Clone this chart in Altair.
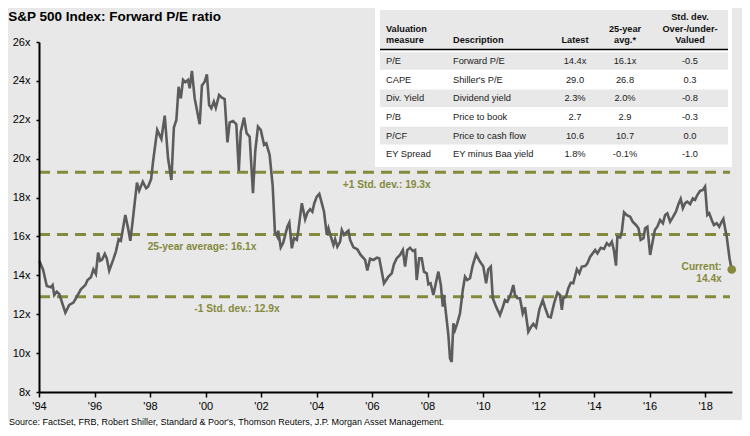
import altair as alt
import pandas as pd

# ---------------- data ----------------
years = [
    1994.01, 1994.15, 1994.28, 1994.43, 1994.49, 1994.55, 1994.64, 1994.73, 1994.95,
    1995.09, 1995.24, 1995.33, 1995.51, 1995.67, 1995.75, 1995.87, 1995.96,
    1996.05, 1996.13, 1996.20, 1996.27, 1996.37, 1996.44, 1996.53, 1996.68, 1996.77, 1996.87, 1996.95,
    1997.11, 1997.21, 1997.29, 1997.38, 1997.53, 1997.61, 1997.74, 1997.86, 1997.93,
    1998.04, 1998.11, 1998.26, 1998.41, 1998.53, 1998.65, 1998.77, 1998.86, 1998.95,
    1999.03, 1999.11, 1999.19, 1999.27, 1999.37, 1999.43, 1999.51, 1999.61, 1999.79, 1999.87, 1999.97,
    2000.05, 2000.13, 2000.21, 2000.30, 2000.37, 2000.49, 2000.59, 2000.69, 2000.79, 2000.87, 2000.99,
    2001.11, 2001.20, 2001.27, 2001.39, 2001.48, 2001.59, 2001.71, 2001.79, 2001.89, 2001.99,
    2002.11, 2002.19, 2002.31, 2002.42, 2002.50, 2002.59, 2002.62, 2002.71, 2002.80, 2002.95,
    2003.02, 2003.11, 2003.19, 2003.29, 2003.34, 2003.47, 2003.59, 2003.67, 2003.77, 2003.85, 2003.92,
    2004.01, 2004.10, 2004.19, 2004.27, 2004.37, 2004.43, 2004.51, 2004.61, 2004.67, 2004.75, 2004.85, 2004.91, 2004.99,
    2005.06, 2005.15, 2005.21, 2005.33, 2005.47, 2005.59, 2005.75, 2005.83, 2005.93,
    2006.05, 2006.17, 2006.26, 2006.43, 2006.59, 2006.71, 2006.79, 2006.89,
    2007.01, 2007.11, 2007.19, 2007.27, 2007.37, 2007.47, 2007.55, 2007.61, 2007.70, 2007.79, 2007.87, 2007.97,
    2008.03, 2008.11, 2008.21, 2008.31, 2008.39, 2008.48, 2008.55, 2008.59, 2008.67, 2008.75, 2008.81, 2008.87, 2008.93, 2008.99,
    2009.07, 2009.17, 2009.27, 2009.35, 2009.43, 2009.53, 2009.63, 2009.75, 2009.87,
    2010.01, 2010.11, 2010.19, 2010.28, 2010.35, 2010.47, 2010.61, 2010.71, 2010.79, 2010.88,
    2011.00, 2011.09, 2011.15, 2011.24, 2011.33, 2011.43, 2011.51, 2011.63, 2011.72, 2011.81, 2011.91,
    2012.03, 2012.15, 2012.23, 2012.35, 2012.44, 2012.56, 2012.68, 2012.77, 2012.84, 2012.89, 2012.99,
    2013.07, 2013.16, 2013.25, 2013.38, 2013.47, 2013.56, 2013.68, 2013.76, 2013.86, 2013.95,
    2014.04, 2014.12, 2014.24, 2014.36, 2014.46, 2014.55, 2014.64, 2014.72, 2014.79, 2014.84, 2014.94,
    2015.00, 2015.08, 2015.18, 2015.30, 2015.39, 2015.51, 2015.60, 2015.68, 2015.78, 2015.84, 2015.92,
    2016.02, 2016.11, 2016.19, 2016.28, 2016.38, 2016.48, 2016.56, 2016.64, 2016.74, 2016.83, 2016.95,
    2017.04, 2017.12, 2017.20, 2017.28, 2017.36, 2017.46, 2017.56, 2017.64, 2017.72, 2017.82, 2017.92,
    2018.00, 2018.08, 2018.15, 2018.24, 2018.32, 2018.42, 2018.51, 2018.60, 2018.66, 2018.72, 2018.78, 2018.88, 2018.96,
]
pe = [
    14.75, 14.28, 13.45, 13.39, 13.50, 12.99, 13.16, 13.04, 12.08,
    12.48, 12.60, 12.82, 13.28, 13.50, 13.76, 13.90, 14.31,
    14.07, 15.17, 14.75, 14.80, 15.10, 14.88, 14.24, 14.83, 15.22, 15.86, 15.78,
    17.10, 16.42, 15.78, 16.85, 18.77, 18.35, 18.82, 18.48, 18.56,
    18.95, 19.85, 21.48, 21.01, 22.21, 20.02, 18.90, 21.60, 21.99,
    23.70, 23.10, 24.05, 23.93, 24.05, 23.62, 24.51, 23.10, 21.77, 23.76, 23.96,
    24.34, 22.76, 22.59, 22.93, 22.62, 23.28, 23.14, 23.07, 20.84, 21.87, 21.94,
    21.77, 19.37, 21.39, 22.11, 21.31, 21.13, 18.22, 20.36, 21.65, 21.48,
    20.71, 20.79, 20.19, 18.60, 16.25, 15.99, 16.30, 15.44, 15.68, 16.50,
    16.71, 15.39, 15.91, 15.82, 16.25, 17.71, 16.88, 17.22, 17.40, 17.27, 17.71,
    18.05, 18.19, 17.71, 17.27, 16.08, 16.42, 16.02, 15.56, 15.86, 15.47, 15.73, 16.33, 16.08,
    16.19, 16.30, 15.82, 15.44, 15.34, 15.05, 14.79, 14.25, 14.85,
    14.79, 14.91, 14.88, 13.59, 13.93, 14.10, 14.57, 14.88,
    15.05, 15.30, 14.45, 15.30, 15.42, 15.25, 15.30, 13.76, 14.88, 14.88, 14.19, 14.10,
    13.54, 13.59, 12.99, 13.67, 14.19, 13.50, 12.39, 12.99, 11.96, 10.93, 9.73, 9.55, 11.53, 11.19,
    11.53, 12.05, 13.25, 13.93, 13.76, 13.85, 14.53, 15.08, 14.75,
    14.45, 13.59, 14.31, 14.45, 12.82, 12.39, 11.96, 12.36, 12.73, 12.65,
    13.04, 13.50, 12.99, 12.82, 12.82, 12.05, 12.36, 11.10, 11.33, 11.50, 11.33,
    12.25, 12.73, 12.36, 11.87, 11.84, 12.56, 13.11, 12.99, 12.22, 12.82, 12.90,
    13.33, 13.62, 13.59, 14.31, 14.10, 14.45, 14.48, 14.62, 14.96, 15.13,
    15.30, 15.13, 15.42, 15.36, 15.65, 15.53, 15.73, 15.25, 14.50, 15.99, 15.94,
    16.25, 17.24, 17.10, 17.02, 16.76, 16.59, 16.42, 15.82, 15.91, 16.42, 16.50,
    15.05, 15.73, 16.33, 16.50, 16.85, 16.68, 17.10, 17.19, 16.76, 16.97, 17.27,
    17.66, 17.93, 17.45, 17.71, 17.79, 17.66, 17.96, 17.88, 18.13, 18.34, 18.39,
    18.56, 17.10, 17.19, 16.85, 16.59, 16.68, 16.50, 16.76, 16.90, 16.42, 15.99, 14.88, 14.30,
]

levels = [19.3, 16.1, 12.9]
level_labels = ["+1 Std. dev.: 19.3x", "25-year average: 16.1x", "-1 Std. dev.: 12.9x"]

current_year = [2018.96]
current_pe = [14.30]
current_text = ["14.4x"]

x_ticks = [1994, 1996, 1998, 2000, 2002, 2004, 2006, 2008, 2010, 2012, 2014, 2016, 2018]
y_ticks = [8, 10, 12, 14, 16, 18, 20, 22, 24, 26]

measures = ["P/E", "CAPE", "Div. Yield", "P/B", "P/CF", "EY Spread"]
descriptions = ["Forward P/E", "Shiller's P/E", "Dividend yield", "Price to book",
                "Price to cash flow", "EY minus Baa yield"]
latest = ["14.4x", "29.0", "2.3%", "2.7", "10.6", "1.8%"]
avg25 = ["16.1x", "26.8", "2.0%", "2.9", "10.7", "-0.1%"]
stddev = ["-0.5", "0.3", "-0.8", "-0.3", "0.0", "-1.0"]
headers = ["Valuation\nmeasure", "Description", "Latest", "25-year\navg.*",
           "Std. dev.\nOver-/under-\nValued"]

title_text = "S&P 500 Index: Forward P/E ratio"
source_text = ("Source: FactSet, FRB, Robert Shiller, Standard & Poor's, Thomson Reuters, "
               "J.P. Morgan Asset Management.")

# ---------------- styling ----------------
FONT = "Liberation Sans"
OLIVE = "#848a3c"
LINE = "#5c5c5c"
BG = "#e8e8e8"
W, H = 693, 350

series = pd.DataFrame({"year": years, "pe": pe})
lv = pd.DataFrame({"level": levels, "label": level_labels})
cur = pd.DataFrame({"year": current_year, "pe": current_pe, "label": current_text})
one = pd.DataFrame({"k": [0]})
tbl = pd.DataFrame({"row": list(range(len(measures))), "measure": measures,
                    "desc": descriptions, "latest": latest, "avg": avg25, "sd": stddev})
hdr = pd.DataFrame({"h": headers, "col": list(range(len(headers)))})

xs = alt.Scale(domain=[1994, 2018.97], nice=False, zero=False)
ys = alt.Scale(domain=[8, 26], nice=False, zero=False)

x_axis = alt.Axis(values=x_ticks, labelExpr="\"'\" + substring(toString(datum.value), 2, 4)",
                  title=None, grid=False, domainColor="black", domainWidth=2,
                  tickColor="black", tickSize=5, tickWidth=1.5, labelFont=FONT,
                  labelFontSize=11, labelColor="black", labelPadding=3,
                  labelFlush=False, labelOverlap=False, zindex=1)
y_axis = alt.Axis(values=y_ticks, labelExpr="datum.value + 'x'", title=None, grid=False,
                  domainColor="black", domainWidth=2, tickColor="black", tickSize=3,
                  tickWidth=1.5, labelFont=FONT, labelFontSize=11, labelColor="black",
                  labelPadding=6, labelFlush=False, labelOverlap=False, zindex=1)

bg = alt.Chart(one).mark_rect(color=BG).encode(
    x=alt.value(-31), x2=alt.value(703), y=alt.value(-34), y2=alt.value(378))

title = alt.Chart(one).mark_text(text=title_text, align="left", baseline="middle", font=FONT,
                                 fontSize=13.5, fontWeight="bold", color="black").encode(
    x=alt.value(-30.7), y=alt.value(-25.3))

source = alt.Chart(one).mark_text(text=source_text, align="left", baseline="alphabetic",
                                  font=FONT, fontSize=9, color="black").encode(
    x=alt.value(-30), y=alt.value(383))

rules = alt.Chart(lv).mark_rule(color=OLIVE, strokeWidth=3, strokeDash=[11, 7]).encode(
    y=alt.Y("level:Q", scale=ys, axis=y_axis), x=alt.value(0), x2=alt.value(691))

label_x = [347.7, 163, 198]
label_layers = []
for i, px in enumerate(label_x):
    label_layers.append(
        alt.Chart(lv.iloc[[i]]).mark_text(align="center", baseline="middle", dy=12.5,
                                          font=FONT, fontSize=10.2, fontWeight="bold",
                                          color=OLIVE).encode(
            x=alt.value(px), y=alt.Y("level:Q", scale=ys, axis=y_axis), text="label:N"))

line = alt.Chart(series).mark_line(color=LINE, strokeWidth=2.6).encode(
    x=alt.X("year:Q", scale=xs, axis=x_axis),
    y=alt.Y("pe:Q", scale=ys, axis=y_axis))

point = alt.Chart(cur).mark_circle(color=OLIVE, size=75, opacity=1).encode(
    x=alt.X("year:Q", scale=xs, axis=x_axis), y=alt.Y("pe:Q", scale=ys, axis=y_axis))

cur_t1 = alt.Chart(cur).mark_text(text="Current:", align="right", baseline="middle", dx=-10,
                                  dy=-3, font=FONT, fontSize=10.2, fontWeight="bold",
                                  color=OLIVE).encode(
    x=alt.X("year:Q", scale=xs, axis=x_axis), y=alt.Y("pe:Q", scale=ys, axis=y_axis))
cur_t2 = alt.Chart(cur).mark_text(align="right", baseline="middle", dx=-10, dy=9, font=FONT,
                                  fontSize=10.2, fontWeight="bold", color=OLIVE).encode(
    x=alt.X("year:Q", scale=xs, axis=x_axis), y=alt.Y("pe:Q", scale=ys, axis=y_axis),
    text="label:N")

main = alt.layer(bg, title, source, rules, *label_layers, line, point, cur_t1, cur_t2)

# ---------------- table ----------------
tscale = alt.Scale(domain=[0, 5], range=[19, 112.3], nice=False, zero=False)

white_box = alt.Chart(one).mark_rect(color="white").encode(
    x=alt.value(336), x2=alt.value(693), y=alt.value(-34), y2=alt.value(125))
head_bg = alt.Chart(one).mark_rect(color=BG).encode(
    x=alt.value(341), x2=alt.value(689), y=alt.value(-32), y2=alt.value(7))
row_bg = alt.Chart(tbl).transform_filter("datum.row % 2 == 0").transform_calculate(
    lo="datum.row - 0.47", hi="datum.row + 0.47").mark_rect(color=BG).encode(
    x=alt.value(341), x2=alt.value(689),
    y=alt.Y("lo:Q", scale=tscale, axis=None), y2="hi:Q")
head_rule = alt.Chart(one).mark_rule(color="black", strokeWidth=1.5).encode(
    x=alt.value(341), x2=alt.value(689), y=alt.value(7.5))

col_x = [347, 414, 536, 586, 651]
col_align = ["left", "left", "center", "center", "center"]
col_fields = ["measure", "desc", "latest", "avg", "sd"]
HEAD_LH = 11.7
HEAD_LAST_BASELINE = 1.3

tbl_layers = [white_box, head_bg, row_bg, head_rule]
for i in range(5):
    n_lines = headers[i].count("\n") + 1
    tbl_layers.append(
        alt.Chart(hdr.iloc[[i]]).mark_text(align=col_align[i], baseline="alphabetic",
                                           lineBreak="\n", lineHeight=HEAD_LH, font=FONT,
                                           fontSize=9.2, fontWeight="bold",
                                           color="#111111").encode(
            x=alt.value(col_x[i]),
            y=alt.value(HEAD_LAST_BASELINE - (n_lines - 1) * HEAD_LH), text="h:N"))
    tbl_layers.append(
        alt.Chart(tbl).mark_text(align=col_align[i], baseline="middle", font=FONT,
                                 fontSize=9.3, color="#1a1a1a").encode(
            x=alt.value(col_x[i]), y=alt.Y("row:Q", scale=tscale, axis=None),
            text=f"{col_fields[i]}:N"))

table = alt.layer(*tbl_layers)

chart = alt.layer(main, table).resolve_scale(y="independent").properties(
    width=W, height=H,
    autosize=alt.AutoSizeParams(type="none"),
    padding={"left": 31, "top": 34, "right": 10, "bottom": 36},
    background="white",
).configure_view(strokeWidth=0)

chart.save("out.html", embed_options={"renderer": "svg", "actions": False})
